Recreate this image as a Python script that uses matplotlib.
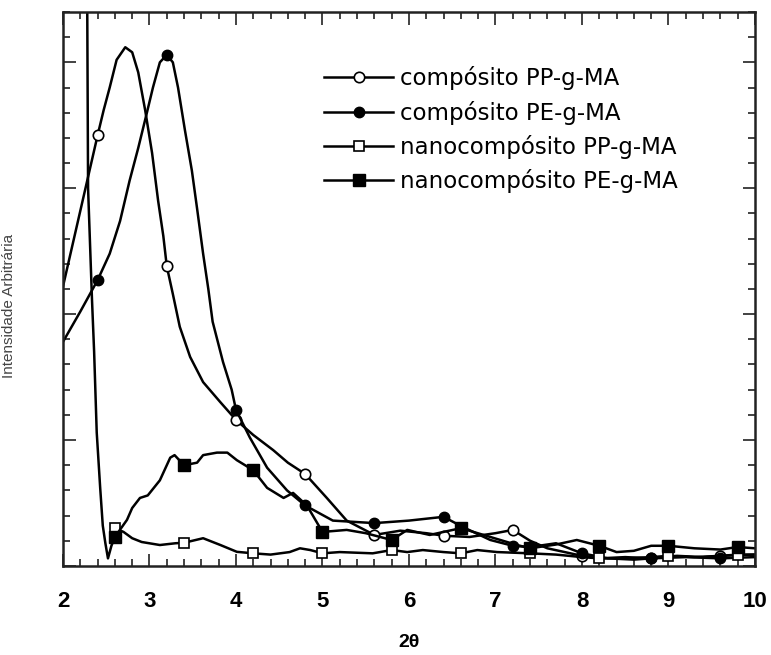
import numpy as np
import matplotlib
matplotlib.use("Agg")
import matplotlib.pyplot as plt
from matplotlib.ticker import MultipleLocator

pp_comp_x = [2.0, 2.1, 2.2, 2.3, 2.4, 2.47, 2.54, 2.62, 2.72, 2.8, 2.87, 2.95, 3.03, 3.1, 3.16,
             3.2, 3.27, 3.35, 3.47, 3.62, 3.82, 4.0, 4.2, 4.43, 4.6, 4.8, 5.05, 5.28, 5.6, 5.9,
             6.2, 6.4, 6.7, 7.0, 7.2, 7.4, 7.6, 7.8, 8.0, 8.2, 8.5, 8.8, 9.1, 9.4, 9.6, 10.0]
pp_comp_y = [11.1, 12.6, 14.1, 15.6, 17.1, 18.1, 19.0, 20.1, 20.6, 20.4, 19.6, 18.1, 16.4, 14.5, 13.1,
             11.9, 10.8, 9.5, 8.3, 7.3, 6.5, 5.8, 5.2, 4.6, 4.1, 3.65, 2.7, 1.8, 1.23, 1.4,
             1.3, 1.2, 1.15, 1.3, 1.43, 1.0, 0.7, 0.55, 0.4, 0.3, 0.35, 0.3, 0.4, 0.35, 0.4, 0.45]

pe_comp_x = [2.0, 2.2, 2.4, 2.54, 2.66, 2.77, 2.87, 2.97, 3.04, 3.12, 3.2, 3.27, 3.33, 3.41, 3.49,
             3.55, 3.62, 3.68, 3.73, 3.85, 3.95, 4.0, 4.16, 4.36, 4.59, 4.8, 5.12, 5.6, 6.0, 6.4,
             6.62, 6.94, 7.2, 7.4, 7.7, 8.0, 8.3, 8.6, 8.8, 9.2, 9.6, 10.0]
pe_comp_y = [8.9, 10.1, 11.35, 12.4, 13.7, 15.3, 16.6, 18.0, 19.0, 20.0, 20.3, 20.0, 19.0, 17.3, 15.7,
             14.2, 12.4, 11.0, 9.7, 8.1, 7.0, 6.2, 5.1, 3.9, 3.0, 2.4, 1.8, 1.7, 1.8, 1.95,
             1.55, 1.03, 0.8, 0.75, 0.9, 0.5, 0.3, 0.25, 0.3, 0.35, 0.3, 0.35]

nano_pp_x = [2.6, 2.7, 2.8, 2.91, 3.12, 3.3, 3.4, 3.62, 3.82, 4.01, 4.2, 4.4, 4.62, 4.74, 4.86,
             5.0, 5.2, 5.58, 5.8, 5.98, 6.16, 6.4, 6.6, 6.79, 7.02, 7.4, 7.7, 8.0, 8.2, 8.5,
             8.8, 9.0, 9.3, 9.6, 9.8, 10.0]
nano_pp_y = [1.5, 1.35, 1.1, 0.95, 0.83, 0.9, 0.92, 1.1, 0.83, 0.56, 0.5, 0.45, 0.55, 0.7, 0.63,
             0.5, 0.55, 0.5, 0.63, 0.55, 0.63, 0.55, 0.5, 0.63, 0.55, 0.5, 0.45, 0.35, 0.3, 0.3,
             0.35, 0.4, 0.35, 0.4, 0.45, 0.45]

nano_pe_x = [2.27, 2.29, 2.335, 2.36, 2.39, 2.43, 2.46, 2.49, 2.52, 2.56, 2.6, 2.74, 2.8, 2.89,
             2.98, 3.12, 3.24, 3.29, 3.4, 3.55, 3.62, 3.78, 3.9, 4.01, 4.2, 4.36, 4.55, 4.66,
             4.82, 5.0, 5.28, 5.5, 5.8, 5.98, 6.24, 6.6, 6.94, 7.25, 7.4, 7.7, 7.94, 8.2, 8.4,
             8.6, 8.8, 9.0, 9.3, 9.6, 9.8, 10.0]
nano_pe_y = [30, 15, 10.6, 8.5, 5.3, 3.1, 1.6, 0.9, 0.3, 0.8, 1.15, 1.83, 2.3, 2.7,
             2.8, 3.4, 4.3, 4.4, 4.0, 4.1, 4.4, 4.5, 4.5, 4.2, 3.8, 3.1, 2.7, 2.9,
             2.4, 1.35, 1.43, 1.3, 1.03, 1.43, 1.23, 1.5, 1.15, 0.83, 0.7, 0.85, 1.03, 0.8, 0.55,
             0.6, 0.8, 0.8, 0.7, 0.65, 0.75, 0.7]

circle_marks = [2.4, 3.2, 4.0, 4.8, 5.6, 6.4, 7.2, 8.0, 8.8, 9.6]
square_marks = [2.6, 3.4, 4.2, 5.0, 5.8, 6.6, 7.4, 8.2, 9.0, 9.8]

labels = ["compósito PP-g-MA", "compósito PE-g-MA",
          "nanocompósito PP-g-MA", "nanocompósito PE-g-MA"]


def mark_idx(x, marks):
    x = np.asarray(x)
    return [int(np.argmin(np.abs(x - m))) for m in marks]


fig = plt.figure(figsize=(7.71, 6.55), dpi=100)
ax = fig.add_axes([0.0817, 0.136, 0.8975, 0.8457])

lw = 1.8
ax.plot(pp_comp_x, pp_comp_y, color="black", lw=lw, marker="o", ms=7.5, mfc="white",
        mec="black", mew=1.2, markevery=mark_idx(pp_comp_x, circle_marks), label=labels[0])
ax.plot(pe_comp_x, pe_comp_y, color="black", lw=lw, marker="o", ms=7.5, mfc="black",
        mec="black", markevery=mark_idx(pe_comp_x, circle_marks), label=labels[1])
ax.plot(nano_pp_x, nano_pp_y, color="black", lw=lw, marker="s", ms=7.5, mfc="white",
        mec="black", mew=1.2, markevery=mark_idx(nano_pp_x, square_marks), label=labels[2])
ax.plot(nano_pe_x, nano_pe_y, color="black", lw=lw, marker="s", ms=8.5, mfc="black",
        mec="black", markevery=mark_idx(nano_pe_x, square_marks), label=labels[3])

ax.set_xlim(2, 10)
ax.set_ylim(0, 22)
ax.xaxis.set_major_locator(MultipleLocator(1))
ax.xaxis.set_minor_locator(MultipleLocator(0.2))
ax.yaxis.set_major_locator(MultipleLocator(5))
ax.yaxis.set_minor_locator(MultipleLocator(1))
ax.tick_params(which="both", direction="in", top=True, right=True, width=1.2, color="#222")
ax.tick_params(which="major", length=9)
ax.tick_params(which="minor", length=5)
ax.tick_params(axis="y", labelleft=False)
ax.tick_params(axis="x", pad=18)
for lab in ax.get_xticklabels():
    lab.set_fontfamily("Liberation Sans")
    lab.set_fontweight("bold")
    lab.set_fontsize(16)
for sp in ax.spines.values():
    sp.set_linewidth(1.8)
    sp.set_color("#222")

ax.set_xlabel("2θ", fontfamily="Liberation Sans", fontweight="bold", fontsize=14, labelpad=16)
ax.set_ylabel("Intensidade Arbitrária", fontfamily="Liberation Sans", fontsize=11,
              color="#444", labelpad=30)
ax.yaxis.set_label_coords(-0.068, 0.47)

ax.legend(loc="upper left", bbox_to_anchor=(0.371, 0.91), frameon=True, fancybox=False,
          edgecolor="white", facecolor="white", framealpha=1, borderpad=0.2,
          borderaxespad=0, handlelength=3, handletextpad=0.3, labelspacing=0.45,
          numpoints=1, prop={"family": "DejaVu Sans", "size": 16.5})

fig.savefig("out.png", dpi=100)
